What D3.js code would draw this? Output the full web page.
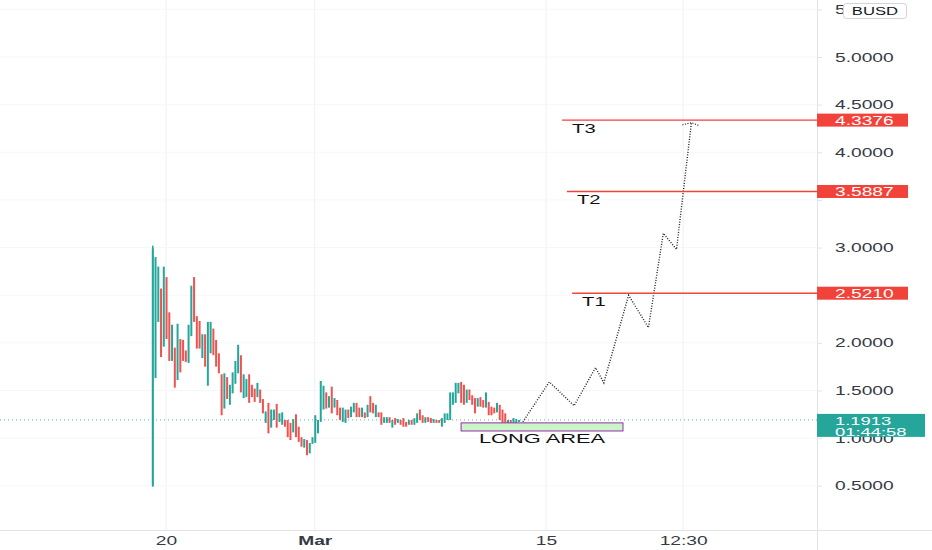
<!DOCTYPE html>
<html><head><meta charset="utf-8">
<script src="https://cdn.jsdelivr.net/npm/d3@7"></script>
<style>html,body{margin:0;padding:0;background:#fff;overflow:hidden}svg{display:block;font-family:"Liberation Sans",Arial,sans-serif}</style>
</head><body><svg id="c" width="932" height="550"></svg>
<script>
// ---------- DATA ----------
const opens = [0.50,1.63,2.22,2.57,1.96,2.69,2.32,1.81,1.95,1.61,2.04,2.03,1.92,1.79,2.07,2.69,2.28,2.23,1.84,2.09,
1.55,1.89,2.15,2.03,1.89,1.67,1.31,1.64,1.35,1.47,1.57,1.68,1.87,1.42,1.43,1.67,1.56,1.52,1.43,1.51,
1.41,1.16,1.37,1.11,1.19,1.36,1.17,1.14,1.19,1.19,1.16,1.06,1.25,1.12,1.01,0.90,0.98,0.84,0.94,0.95,
1.05,1.17,1.30,1.48,1.32,1.54,1.32,1.40,1.32,1.17,1.16,1.30,1.22,1.27,1.37,1.32,1.22,1.27,1.22,1.44,
1.37,1.22,1.27,1.27,1.16,1.16,1.22,1.11,1.21,1.16,1.19,1.21,1.17,1.14,1.19,1.14,1.16,1.30,1.24,1.16,
1.22,1.21,1.16,1.19,1.19,1.12,1.16,1.19,1.19,1.35,1.37,1.47,1.59,1.56,1.37,1.51,1.45,1.42,1.33,1.43,
1.40,1.32,1.38,1.33,1.32,1.27,1.35,1.30,1.26,1.14,1.19,1.14,1.16,1.17];
const closes = [2.99,2.90,2.80,1.85,2.80,2.04,1.81,2.19,1.53,2.20,1.69,1.81,1.80,2.19,2.60,2.22,1.94,1.94,2.09,1.75,
2.22,2.22,1.87,1.75,1.68,1.24,1.68,1.41,1.56,1.69,1.81,1.98,1.48,1.67,1.62,1.37,1.43,1.38,1.58,1.37,
1.26,1.28,1.05,1.30,1.30,1.11,1.26,1.27,1.12,1.01,0.98,1.20,1.01,0.96,0.91,0.99,0.82,0.95,1.01,1.24,
1.19,1.60,1.55,1.31,1.44,1.26,1.42,1.24,1.19,1.32,1.30,1.21,1.33,1.37,1.22,1.22,1.32,1.21,1.35,1.27,
1.26,1.35,1.22,1.14,1.22,1.22,1.16,1.19,1.14,1.20,1.14,1.12,1.12,1.19,1.14,1.21,1.26,1.19,1.16,1.22,
1.17,1.16,1.20,1.16,1.16,1.21,1.26,1.26,1.48,1.48,1.58,1.58,1.37,1.35,1.51,1.40,1.35,1.26,1.42,1.33,
1.32,1.48,1.24,1.24,1.26,1.37,1.19,1.16,1.16,1.19,1.12,1.21,1.20,1.1913];
const wicks = [[0, 3.02, 0.49]];           // [candle index, high, low]
const candleStartDay = -0.8;                // day of first candle (day 0 = Feb 20)
const candlesPerDay = 6;                    // 4h candles

const yTicks = [0.5, 1.0, 1.5, 2.0, 2.5, 3.0, 3.5, 4.0, 4.5, 5.0, 5.5];
const yTickHidden = [2.5, 3.5];
const xTickDays = [0, 9, 23, 31.3];
const xTickLabels = ["20", "Mar", "15", "12:30"];
const xTickBold = [false, true, false, false];

const lastPrice = 1.1913;
const countdown = "01:44:58";
const currency = "BUSD";

const targetNames = ["T1", "T2", "T3"];
const targetValues = [2.5210, 3.5887, 4.3376];
const targetStartDays = [24.58, 24.27, 23.97];

const projDays   = [21.6, 23.2, 24.7, 26.0, 26.5, 28.0, 29.2, 30.1, 30.9, 31.8];
const projValues = [1.17, 1.59, 1.34, 1.74, 1.58, 2.50, 2.16, 3.15, 2.98, 4.31];

const longArea = {day0: 17.86, day1: 27.66, low: 1.075, high: 1.16, label: "LONG AREA"};

// ---------- LAYOUT ----------
const W = 932, H = 550, axisX = 817, plotBottom = 530;
const SX = 1.6; // horizontal text stretch of the reference
const green = "#26a69a", red = "#ef5350", lineRed = "#f2433b";

const svg = d3.select("#c");
const x = d3.scaleLinear().domain([0, 23]).range([166, 546]);
const y = d3.scaleLinear().domain([0, 5]).range([533.4, 57]);

function stext(g, px, py, txt, opt) {
  opt = opt || {};
  return g.append("text")
    .attr("transform", `translate(${px},${py}) scale(${opt.sx || SX},1)`)
    .attr("text-anchor", opt.anchor || "start")
    .attr("dominant-baseline", "central")
    .attr("font-size", opt.size || 12)
    .attr("font-weight", opt.weight || "normal")
    .attr("fill", opt.fill || "#2a2e39")
    .text(txt);
}

// grid
const grid = svg.append("g");
grid.selectAll("line.v").data(xTickDays).join("line")
  .attr("x1", d => x(d)).attr("x2", d => x(d)).attr("y1", 0).attr("y2", plotBottom)
  .attr("stroke", "#eef0f4").attr("stroke-width", 1);
grid.selectAll("line.h").data(yTicks).join("line")
  .attr("x1", 0).attr("x2", axisX).attr("y1", d => y(d)).attr("y2", d => y(d))
  .attr("stroke", "#f6f7f9").attr("stroke-width", 1);

// axes frame
svg.append("line").attr("x1", 0).attr("x2", W).attr("y1", plotBottom + 0.5).attr("y2", plotBottom + 0.5).attr("stroke", "#e0e3eb");
svg.append("line").attr("x1", axisX + 0.5).attr("x2", axisX + 0.5).attr("y1", 0).attr("y2", H).attr("stroke", "#e0e3eb");

// y axis
const yAxisG = svg.append("g").attr("transform", `translate(${axisX},0)`)
  .call(d3.axisRight(y).tickValues(yTicks).tickSize(5).tickFormat(d3.format(".4f")));
yAxisG.select(".domain").remove();
yAxisG.selectAll(".tick line").attr("stroke", "#e0e3eb");
yAxisG.selectAll(".tick text")
  .attr("x", 0).attr("dy", null).attr("dominant-baseline", "central")
  .attr("transform", `translate(18,0) scale(${SX},1)`)
  .attr("font-size", 12).attr("font-family", '"Liberation Sans",Arial,sans-serif').attr("fill", "#363a45")
  .style("opacity", d => yTickHidden.includes(d) ? 0 : 1);

// x axis
const xAxisG = svg.append("g").attr("transform", `translate(0,${plotBottom})`)
  .call(d3.axisBottom(x).tickValues(xTickDays).tickSize(0).tickFormat((d, i) => xTickLabels[i]));
xAxisG.select(".domain").remove();
xAxisG.selectAll(".tick text")
  .attr("y", 0).attr("dy", null).attr("dominant-baseline", "central")
  .attr("transform", `translate(0,11) scale(${SX},1)`)
  .attr("font-size", 12).attr("font-family", '"Liberation Sans",Arial,sans-serif').attr("fill", "#363a45")
  .attr("font-weight", (d, i) => xTickBold[i] ? "bold" : "normal");

// price line
svg.append("line").attr("x1", 0).attr("x2", axisX).attr("y1", y(lastPrice)).attr("y2", y(lastPrice))
  .attr("stroke", green).attr("stroke-opacity", 0.8).attr("stroke-dasharray", "1,3");

// candles
const candles = opens.map((o, i) => ({i, o, c: closes[i], day: candleStartDay + i / candlesPerDay}));
const cg = svg.append("g");
wicks.forEach(([i, h, l]) => {
  const d = candles[i];
  cg.append("line").attr("x1", x(d.day)).attr("x2", x(d.day)).attr("y1", y(h)).attr("y2", y(l))
    .attr("stroke", d.c >= d.o ? green : red).attr("stroke-width", 1.6);
});
cg.selectAll("rect").data(candles).join("rect")
  .attr("x", d => x(d.day) - 1).attr("width", 2)
  .attr("y", d => y(Math.max(d.o, d.c)))
  .attr("height", d => Math.max(1, Math.abs(y(d.o) - y(d.c))))
  .attr("fill", d => d.c >= d.o ? green : red);

// long area
svg.append("rect")
  .attr("x", x(longArea.day0)).attr("width", x(longArea.day1) - x(longArea.day0))
  .attr("y", y(longArea.high)).attr("height", y(longArea.low) - y(longArea.high))
  .attr("fill", "#c8f7c5").attr("stroke", "#9c27b0").attr("stroke-width", 1);
stext(svg, (x(longArea.day0) + x(longArea.day1)) / 2, y(longArea.low) + 8, longArea.label,
  {anchor: "middle", size: 13.5, fill: "#111", sx: 1.62});

// projection path
const pts = projDays.map((d, i) => [x(d), y(projValues[i])]);
svg.append("path").attr("d", d3.line()(pts)).attr("fill", "none")
  .attr("stroke", "#222").attr("stroke-width", 1.4).attr("stroke-dasharray", "1,1.6");
const end = pts[pts.length - 1];
svg.append("path").attr("d", d3.line()([[end[0] - 9, end[1] + 2], end, [end[0] + 8, end[1] + 3]]))
  .attr("fill", "none").attr("stroke", "#222").attr("stroke-width", 1.2).attr("stroke-dasharray", "1,1.6");

// targets
targetValues.forEach((v, i) => {
  const ly = y(v);
  svg.append("line").attr("x1", x(targetStartDays[i])).attr("x2", axisX).attr("y1", ly).attr("y2", ly)
    .attr("stroke", lineRed).attr("stroke-width", 1.4);
  stext(svg, x(targetStartDays[i]) + 10, ly + 8, targetNames[i], {size: 13.5, fill: "#111", sx: 1.5});
  svg.append("rect").attr("x", axisX).attr("y", ly - 6.5).attr("width", 91).attr("height", 13).attr("fill", lineRed);
  stext(svg, axisX + 18, ly + 0.5, d3.format(".4f")(v), {fill: "#fff"});
});

// last price label
const py = y(lastPrice);
svg.append("rect").attr("x", axisX).attr("y", py - 6).attr("width", 108).attr("height", 23).attr("fill", green);
stext(svg, axisX + 18, py + 0.5, d3.format(".4f")(lastPrice), {fill: "#fff", size: 11.5});
stext(svg, axisX + 18, py + 11.5, countdown, {fill: "#fff", size: 11.5});

// currency label
svg.append("rect").attr("x", 843.5).attr("y", 3.5).attr("width", 63).attr("height", 15).attr("rx", 3)
  .attr("fill", "#fff").attr("stroke", "#d1d4dc");
stext(svg, 875, 11, currency, {anchor: "middle", size: 11.5, fill: "#131722", sx: 1.45});
</script></body></html>
